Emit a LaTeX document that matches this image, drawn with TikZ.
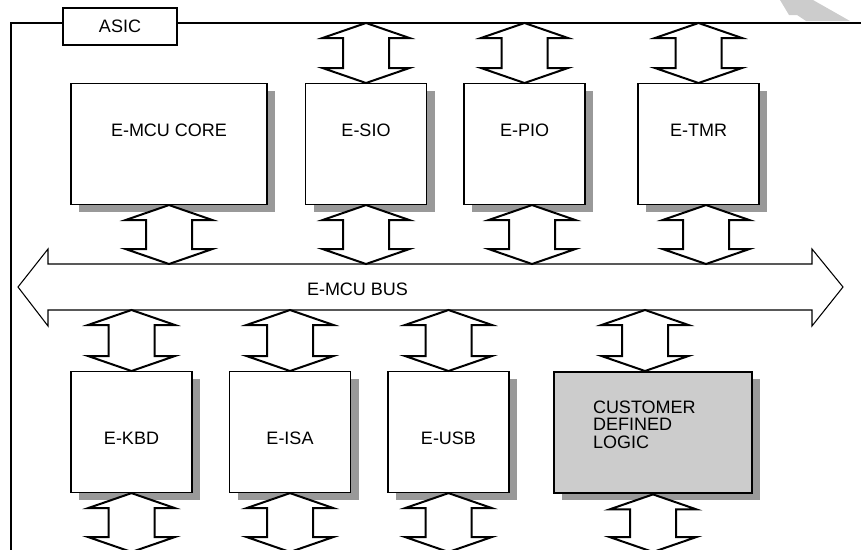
\documentclass[tikz,border=0pt]{standalone}
\usepackage{fontspec}
\setmainfont{Liberation Sans}
\usetikzlibrary{calc, shadows}

% double block arrow between two points (top tip, bottom tip)
\newcommand{\biarrow}[2]{%
  \coordinate (la) at (#1);
  \coordinate (lb) at (#2);
  \draw[link] (la) -- ++(43.5,15) -- ++(-20.5,0) -- ($(lb)+(23,-15)$)
    -- ++(20.5,0) -- (lb) -- ++(-43.5,-15) -- ++(20.5,0)
    -- ($(la)+(-23,15)$) -- ++(-20.5,0) -- cycle;}

\begin{document}
\begin{tikzpicture}[
  x=0.75pt, y=-0.75pt,
  font=\fontsize{13.5}{13.1}\selectfont,
  blk/.style={draw=black, line width=0.8pt, fill=white, inner sep=0pt,
              minimum width=90.75pt, minimum height=90.75pt, anchor=north,
              drop shadow={fill=black!40, opacity=1,
                           shadow xshift=6pt, shadow yshift=-5.25pt}},
  uprow/.style={blk, text height=39.75pt, text depth=51pt},
  lorow/.style={blk, text height=54.4pt, text depth=36.4pt},
  link/.style={draw=black, line width=1.5pt, fill=white, line join=miter},
  bus/.style={draw=black, line width=0.8pt, fill=white},
  frame/.style={draw=black, line width=0.8pt}
]
\useasboundingbox (0,0) rectangle (861,550);

% --- frame ---
\coordinate (ftop) at (0,23);
\coordinate (btop) at (0,264);
\coordinate (bbot) at (0,310);
\coordinate (fbot) at (0,552);
\node[frame, inner sep=0pt, minimum width=85.5pt, minimum height=27.75pt]
  (asic) at (120,26.5) {ASIC};
\draw[frame] (11,552) |- (asic.west |- ftop);
\draw[frame] (asic.east |- ftop) -- (861,23);
\fill[black!20] (780,0) -- (813,0) -- (850,21) -- (806,21) -- (797,15) -- (789,15) -- cycle;

% --- bus ---
\draw[bus] (18,287) -- (48,249) -- (48,264) -- (812,264) -- (812,249) -- (843,287)
  -- (812,326) -- (812,310) -- (48,310) -- (48,326) -- cycle;
\node[anchor=base, inner sep=0pt] (buslbl) at (357.5,295) {E-MCU BUS};

% --- upper row ---
\node[uprow, minimum width=147pt] (core) at (169,83) {E-MCU CORE};
\node[uprow] (sio) at (366,83)   {E-SIO};
\node[uprow] (pio) at (524.5,83) {E-PIO};
\node[uprow] (tmr) at (698.5,83) {E-TMR};

% --- lower row ---
\node[lorow] (kbd) at (131.5,371) {E-KBD};
\node[lorow] (isa) at (290,371)   {E-ISA};
\node[lorow] (usb) at (448.5,371) {E-USB};
\node[lorow, minimum width=148.5pt, fill=black!20, line width=1.8pt,
      align=left, text width=90pt, inner xsep=29.25pt,
      text height=30.75pt, text depth=60pt]
  (cdl) at (653,371) {CUSTOMER\\DEFINED\\LOGIC};

% --- links ---
\foreach \b in {sio,pio,tmr}
  \biarrow{\b.north |- ftop}{\b.north};
\foreach \b in {core,sio}
  \biarrow{\b.south}{\b.south |- btop};
\foreach \b in {pio,tmr}
  \biarrow{$(\b.south)+(7.5,0)$}{$(\b.south |- btop)+(7.5,0)$};
\foreach \b in {kbd,isa,usb}
  \biarrow{\b.north |- bbot}{\b.north};
\biarrow{$(cdl.north |- bbot)+(-8,0)$}{$(cdl.north)+(-8,0)$};
\foreach \b in {kbd,isa,usb,cdl}
  \biarrow{\b.south}{\b.south |- fbot};
\end{tikzpicture}
\end{document}
